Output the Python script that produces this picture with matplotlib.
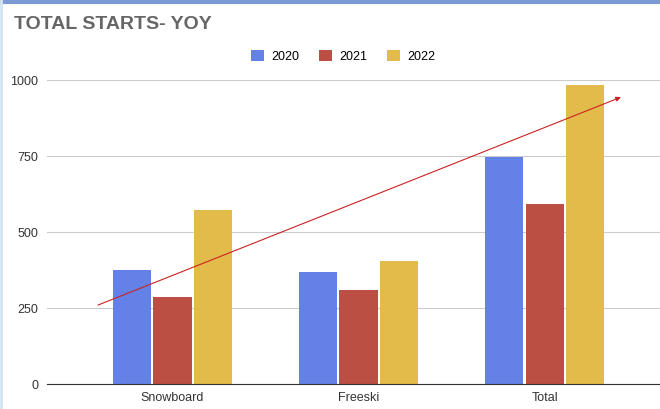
import matplotlib.pyplot as plt
import numpy as np

# data
categories = ['Snowboard', 'Freeski', 'Total']
years = ['2020', '2021', '2022']
values_2020 = [375, 368, 748]
values_2021 = [286, 309, 593]
values_2022 = [573, 405, 984]
colors = ['#6381e6', '#bb4f43', '#e3bb4a']

# arrow (data coords)
arrow_start = (-0.40, 260)
arrow_end = (2.41, 944)

plt.rcParams['font.family'] = ['Liberation Sans', 'DejaVu Sans']

fig = plt.figure(figsize=(6.6, 4.09), dpi=100)
ax = fig.add_axes([0.071, 0.061, 0.929, 0.743])

x = np.arange(len(categories))
w = 0.205
step = 0.218
series = [values_2020, values_2021, values_2022]
for i, (vals, yr) in enumerate(zip(series, years)):
    ax.bar(x + (i - 1) * step, vals, width=w, color=colors[i], label=yr, zorder=3)

ax.set_xlim(-0.675, 2.62)
ax.set_ylim(0, 1000)
ax.set_yticks([0, 250, 500, 750, 1000])
ax.set_xticks(x)
ax.set_xticklabels(categories)
ax.tick_params(axis='both', length=0, labelsize=9, colors='#333333', pad=6)
ax.grid(axis='y', color='#cccccc', linewidth=0.8, zorder=0)
for s in ['top', 'right', 'left']:
    ax.spines[s].set_visible(False)
ax.spines['bottom'].set_color('#333333')
ax.spines['bottom'].set_zorder(4)

ax.annotate('', xy=arrow_end, xytext=arrow_start,
            arrowprops=dict(arrowstyle='-|>', color='#cc2222', lw=0.8,
                            mutation_scale=7, shrinkA=0, shrinkB=0),
            zorder=5, annotation_clip=False)

fig.text(0.021, 0.941, 'TOTAL STARTS- YOY', fontsize=14, fontweight='bold',
         color='#666666', va='center')
fig.legend(loc='center', bbox_to_anchor=(0.52, 0.862), ncol=3, frameon=False,
           fontsize=9, handlelength=1.0, handleheight=1.0, columnspacing=1.6,
           handletextpad=0.6)

# page borders
fig.add_artist(plt.Line2D([0, 1], [0.995, 0.995], color='#7a9bd3', lw=3))
fig.add_artist(plt.Line2D([0.002, 0.002], [0, 1], color='#d5e3f3', lw=2))

fig.savefig('out.png', dpi=100)
